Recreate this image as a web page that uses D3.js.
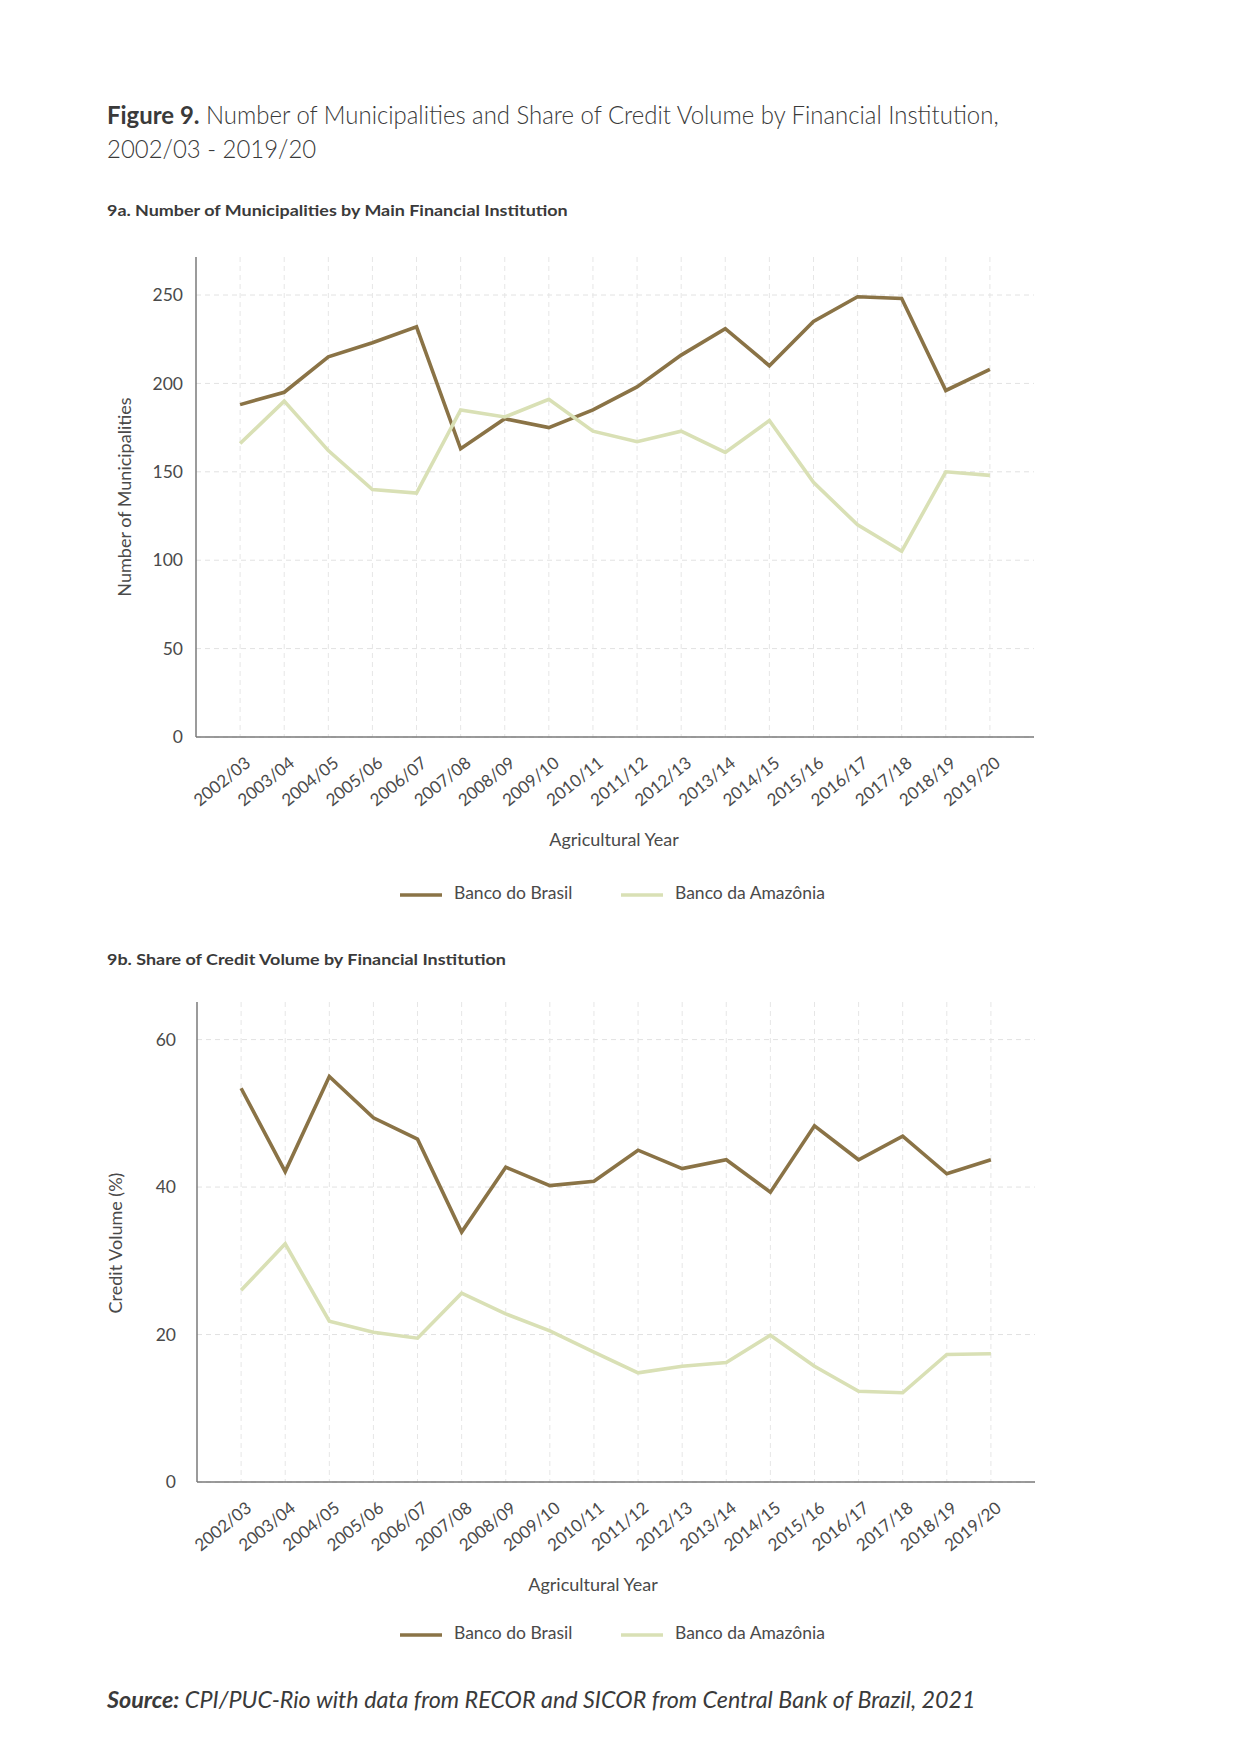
<!DOCTYPE html>
<html>
<head>
<meta charset="utf-8">
<script src="https://cdn.jsdelivr.net/npm/d3@7"></script>
<style>
  html, body { margin: 0; padding: 0; background: #fff; }
  svg { display: block; }
</style>
</head>
<body>
<svg id="fig" width="1241" height="1754"></svg>
<script>
// ---------------- DATA ----------------
const years = ["2002/03","2003/04","2004/05","2005/06","2006/07","2007/08","2008/09","2009/10","2010/11",
  "2011/12","2012/13","2013/14","2014/15","2015/16","2016/17","2017/18","2018/19","2019/20"];

const seriesNames = ["Banco do Brasil", "Banco da Amazônia"];
const seriesColors = ["#8a7346", "#d9e0b5"];

// 9a: Number of municipalities
const muniBrasil   = [188,195,215,223,232,163,180,175,185,198,216,231,210,235,249,248,196,208];
const muniAmazonia = [166,190,162,140,138,185,181,191,173,167,173,161,179,144,120,105,150,148];
const muniTicks = [0,50,100,150,200,250];

// 9b: Share of credit volume (%)
const creditBrasil   = [53.4,42.1,55.0,49.4,46.5,33.9,42.7,40.2,40.8,45.0,42.5,43.7,39.3,48.3,43.7,46.9,41.8,43.7];
const creditAmazonia = [26.0,32.3,21.8,20.3,19.5,25.6,22.8,20.5,17.6,14.8,15.7,16.2,19.9,15.7,12.3,12.1,17.3,17.4];
const creditTicks = [0,20,40,60];

// ---------------- DRAWING ----------------
const svg = d3.select("#fig");
const textColor = "#4a4a4a";
const bodyFont = "Lato, 'Open Sans', sans-serif";

// helper: condense a text element horizontally to a target width
function fitWidth(sel, x, targetW) {
  const w = sel.node().getComputedTextLength();
  const s = targetW / w;
  sel.attr("transform", `translate(${x},0) scale(${s},1) translate(${-x},0)`);
}

// Title
const t1 = svg.append("text").attr("x", 107).attr("y", 124)
  .attr("font-family", bodyFont).attr("font-size", 25).attr("fill", "#3a3a3a");
t1.append("tspan").attr("font-weight", 700).text("Figure 9.");
t1.append("tspan").attr("font-weight", 300).text(" Number of Municipalities and Share of Credit Volume by Financial Institution,");
fitWidth(t1, 107, 892);
const t2 = svg.append("text").attr("x", 107).attr("y", 158)
  .attr("font-family", bodyFont).attr("font-size", 25).attr("font-weight", 300).attr("fill", "#3a3a3a")
  .text("2002/03 - 2019/20");
t2.attr("transform", t1.attr("transform"));

function drawPanel(cfg) {
  const g = svg.append("g");
  // subtitle
  const st = g.append("text").attr("x", 107).attr("y", cfg.subY)
    .attr("font-family", bodyFont).attr("font-size", 16).attr("font-weight", 700)
    .attr("fill", "#3a3a3a").text(cfg.subtitle);
  fitWidth(st, 107, cfg.subW);

  const x = d3.scalePoint().domain(years).range([cfg.left, cfg.right]).padding(1);
  const y = d3.scaleLinear().domain(cfg.yDomain).range([cfg.bottom, cfg.top]);

  // grid
  g.append("g").selectAll("line.h").data(cfg.ticks).join("line")
    .attr("x1", cfg.left).attr("x2", cfg.right)
    .attr("y1", d => y(d)).attr("y2", d => y(d))
    .attr("stroke", "#e2e2e2").attr("stroke-width", 1).attr("stroke-dasharray", "5,4");
  g.append("g").selectAll("line.v").data(years).join("line")
    .attr("x1", d => x(d)).attr("x2", d => x(d))
    .attr("y1", cfg.top).attr("y2", cfg.bottom)
    .attr("stroke", "#e6e6e6").attr("stroke-width", 1).attr("stroke-dasharray", "5,4");

  // axes
  const yAxis = d3.axisLeft(y).tickValues(cfg.ticks).tickSize(0).tickPadding(cfg.yPad);
  const ya = g.append("g").attr("transform", `translate(${cfg.left},0)`).call(yAxis);
  ya.select(".domain").remove();
  ya.selectAll("text").attr("font-family", bodyFont).attr("font-size", 17.5).attr("fill", textColor);
  g.append("line").attr("x1", cfg.left).attr("x2", cfg.left).attr("y1", cfg.top).attr("y2", cfg.bottom)
    .attr("stroke", "#7a7a7a").attr("stroke-width", 1.5);

  const xAxis = d3.axisBottom(x).tickSize(0).tickPadding(0);
  const xa = g.append("g").attr("transform", `translate(0,${cfg.bottom})`).call(xAxis);
  xa.select(".domain").remove();
  xa.selectAll("text")
    .attr("font-family", bodyFont).attr("font-size", 17).attr("fill", textColor)
    .attr("text-anchor", "end").attr("dy", 0).attr("y", 0)
    .attr("transform", "translate(11,28) rotate(-39)");
  g.append("line").attr("x1", cfg.left).attr("x2", cfg.right).attr("y1", cfg.bottom).attr("y2", cfg.bottom)
    .attr("stroke", "#7a7a7a").attr("stroke-width", 1.5);

  // lines
  const line = d3.line().x((d, i) => x(years[i])).y(d => y(d));
  cfg.series.forEach((vals, si) => {
    g.append("path").datum(vals).attr("d", line)
      .attr("fill", "none").attr("stroke", seriesColors[si]).attr("stroke-width", 3.6)
      .attr("stroke-linejoin", "miter");
  });

  // axis titles
  g.append("text").attr("x", cfg.xTitleX).attr("y", cfg.xTitleY)
    .attr("text-anchor", "middle").attr("dominant-baseline", "middle")
    .attr("font-family", bodyFont).attr("font-size", 18).attr("fill", textColor)
    .text("Agricultural Year");
  g.append("text").attr("transform", `translate(${cfg.yTitleX},${cfg.yTitleY}) rotate(-90)`)
    .attr("text-anchor", "middle").attr("dominant-baseline", "middle")
    .attr("font-family", bodyFont).attr("font-size", 18).attr("fill", textColor)
    .text(cfg.yTitle);

  // legend
  const legX = [400, 621];
  seriesNames.forEach((name, i) => {
    g.append("line").attr("x1", legX[i]).attr("x2", legX[i] + 42)
      .attr("y1", cfg.legY).attr("y2", cfg.legY)
      .attr("stroke", seriesColors[i]).attr("stroke-width", 3.5);
    g.append("text").attr("x", legX[i] + 54).attr("y", cfg.legY)
      .attr("dominant-baseline", "middle")
      .attr("font-family", bodyFont).attr("font-size", 17.5).attr("fill", textColor)
      .text(name);
  });
}

drawPanel({
  subtitle: "9a. Number of Municipalities by Main Financial Institution", subY: 216, subW: 461,
  left: 196, right: 1034, top: 257, bottom: 737, yDomain: [0, 271.5], ticks: muniTicks, yPad: 13,
  series: [muniBrasil, muniAmazonia],
  xTitleX: 614, xTitleY: 841, yTitleX: 126, yTitleY: 497, yTitle: "Number of Municipalities",
  legY: 895
});

drawPanel({
  subtitle: "9b. Share of Credit Volume by Financial Institution", subY: 965, subW: 399,
  left: 197, right: 1035, top: 1002, bottom: 1482, yDomain: [0, 65.1], ticks: creditTicks, yPad: 21,
  series: [creditBrasil, creditAmazonia],
  xTitleX: 593, xTitleY: 1586, yTitleX: 117, yTitleY: 1243, yTitle: "Credit Volume (%)",
  legY: 1635
});

// Source
const src = svg.append("text").attr("x", 107).attr("y", 1708)
  .attr("font-family", bodyFont).attr("font-size", 23).attr("font-style", "italic").attr("fill", "#3a3a3a");
src.append("tspan").attr("font-weight", 700).text("Source:");
src.append("tspan").attr("font-weight", 400).text(" CPI/PUC-Rio with data from RECOR and SICOR from Central Bank of Brazil, 2021");
fitWidth(src, 107, 869);
</script>
</body>
</html>
